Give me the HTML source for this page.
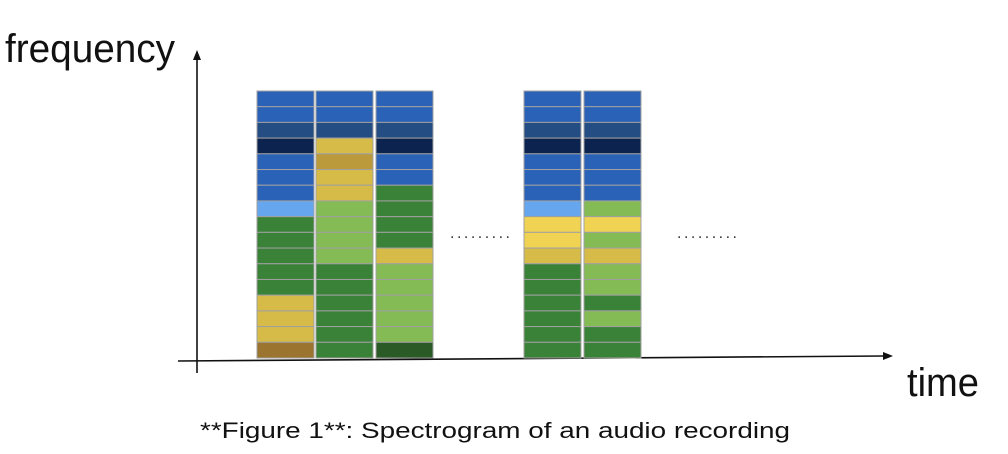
<!DOCTYPE html>
<html><head><meta charset="utf-8"><style>
html,body{margin:0;padding:0;background:#fff;}
svg{display:block;}
</style></head><body>
<svg id="chart" width="1008" height="454" viewBox="0 0 1008 454" xmlns="http://www.w3.org/2000/svg" font-family="Liberation Sans, sans-serif">
  <text x="5" y="62" font-size="40" textLength="170" lengthAdjust="spacingAndGlyphs" fill="#111">frequency</text>
  <text x="907" y="396" font-size="40" textLength="72" lengthAdjust="spacingAndGlyphs" fill="#111">time</text>
  <line x1="197" y1="373" x2="197" y2="58" stroke="#111" stroke-width="1.6"/>
  <polygon points="197,50 193,60 201,60" fill="#111"/>
  <line x1="178" y1="361" x2="884" y2="356" stroke="#111" stroke-width="1.6"/>
  <polygon points="893,356 883,352 883,360" fill="#111"/>
  <g id="cols"></g>
  <text x="450" y="238" font-size="16" textLength="60" lengthAdjust="spacing" fill="#333">.........</text>
  <text x="677" y="238" font-size="16" textLength="60" lengthAdjust="spacing" fill="#333">.........</text>
  <text x="200" y="438" font-size="22" textLength="590" lengthAdjust="spacingAndGlyphs" fill="#111">**Figure 1**: Spectrogram of an audio recording</text>
</svg>
<script>
const timeFrames = ['t1','t2','t3','t4','t5'];
const frame1 = ['B','B','D','N','B','B','B','L','G','G','G','G','G','Y','Y','Y','Br'];
const frame2 = ['B','B','D','Y','O','Y','Y','LG','LG','LG','LG','G','G','G','G','G','G'];
const frame3 = ['B','B','D','N','B','B','G','G','G','G','Y','LG','LG','LG','LG','LG','DG'];
const frame4 = ['B','B','D','N','B','B','B','L','Y2','Y2','Y','G','G','G','G','G','G'];
const frame5 = ['B','B','D','N','B','B','B','LG','Y2','LG','Y','LG','LG','G','LG','G','G'];
const frames=[frame1,frame2,frame3,frame4,frame5];
const palette={B:'#2a62b8',D:'#244d84',N:'#0c2350',L:'#66a6ee',G:'#3b8239',LG:'#85bb55',Y:'#d6bb48',Y2:'#f0d352',O:'#bb9a3c',Br:'#9b7530',DG:'#2a5a25'};
const colX=[257,316,376,524,584];
const colW=57, colTop=91, colBottom=358;
const colsG=document.getElementById('cols');
const NS='http://www.w3.org/2000/svg';
frames.forEach((f,i)=>{
  const rh=(colBottom-colTop)/f.length;
  const col=document.createElementNS(NS,'g');
  
  
  f.forEach((c,j)=>{
    const r=document.createElementNS(NS,'rect');
    
    
    r.setAttribute('x',colX[i]);r.setAttribute('y',colTop+j*rh);
    r.setAttribute('width',colW);r.setAttribute('height',rh);
    r.setAttribute('fill',palette[c]);r.setAttribute('stroke','#a0a0a0');r.setAttribute('stroke-width','1');
    col.appendChild(r);
  });
  colsG.appendChild(col);
});
</script>
</body></html>
